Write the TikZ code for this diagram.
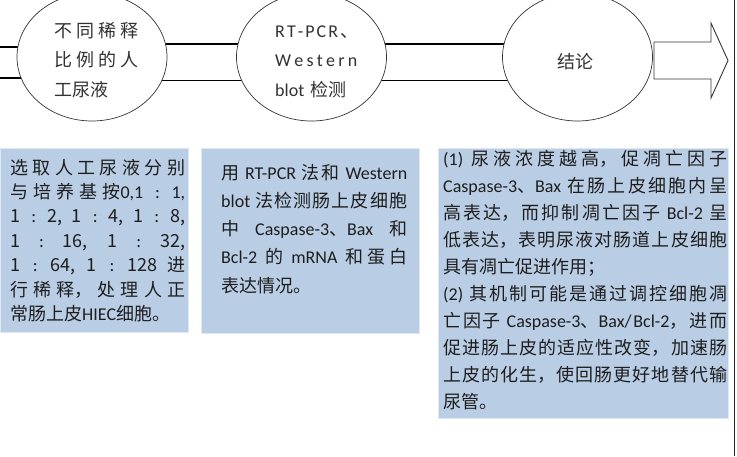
\documentclass[tikz,border=0pt]{standalone}
\usepackage{fontspec}
\setmainfont{Noto Sans CJK SC}
\newfontfamily\latfont{Carlito}
\newcommand\cc{\makebox[10pt][c]{\latfont :}}
\usetikzlibrary{shapes.geometric,backgrounds}
\XeTeXlinebreaklocale "zh"
\XeTeXlinebreakskip=0pt plus 2pt
\definecolor{boxfill}{RGB}{185,205,229}
\definecolor{boxline}{RGB}{222,231,242}
\definecolor{inkc}{RGB}{30,30,30}
\definecolor{ellink}{RGB}{50,50,50}
\newcommand\fsz[1]{\fontsize{18pt}{#1}\selectfont\parindent=0pt\tolerance=10000\exhyphenpenalty=10000\hyphenpenalty=10000}
\tikzset{
  ell/.style={ellipse, draw=black!80, line width=0.7pt, fill=white, minimum width=150pt, minimum height=128pt, inner sep=0pt},
  band/.style={draw=black, line width=1.2pt},
  panel/.style={draw=boxline, line width=0.8pt, fill=boxfill, inner sep=0pt, anchor=north west},
  ptext/.style={inner sep=0pt, anchor=base west, align=justify, text=inkc},
  etext/.style={inner sep=0pt, text=ellink},
}
\begin{document}
\begin{tikzpicture}[x=1pt,y=-1pt]
\useasboundingbox (0,0) rectangle (737,456);
% ellipses
\node[ell] (e1) at (92,57) {};
\node[ell] (e2) at (311.5,57) {};
\node[ell] (e3) at (577.5,57) {};
% bands behind ellipses
\coordinate (s1) at (0,47);
\coordinate (s2) at (0,78);
\begin{pgfonlayer}{background}
  \draw[band] (s1) -- (s1 -| e1.center);
  \draw[band] (s2) -- (s2 -| e1.center);
  \draw[band] ([yshift=13pt]e1.center) -- ([yshift=13pt]e2.center);
  \draw[band] ([yshift=-23.5pt]e1.center) -- ([yshift=-23.5pt]e2.center);
  \draw[band] ([yshift=13pt]e2.center) -- ([yshift=13pt]e3.center);
  \draw[band] ([yshift=-23.5pt]e2.center) -- ([yshift=-23.5pt]e3.center);
\end{pgfonlayer}
% big arrow to the right
\coordinate (tip) at (728,60.5);
\draw[black!80, line width=0.9pt, fill=white, line join=miter]
  (654,42) -- (711,42) -- (711,23) -- (tip) -- (711,98) -- (711,79) -- (654,79) -- cycle;
% ellipse texts
\node[etext, anchor=base west, text width=84pt, align=justify, font=\fsz{29.5pt}] (t1) at (54,37)
  {不同稀释\linebreak 比例的人\linebreak 工尿液};
\node[etext, anchor=base west, text width=90pt, align=left, font=\fsz{29.5pt}\latfont] (t2) at (275,37)
  {\makebox[83pt][s]{R\hfill T\hfill -\hfill P\hfill C\hfill R\hfill{\rmfamily 、}}\\
   \makebox[82pt][s]{W\hfill e\hfill s\hfill t\hfill e\hfill r\hfill n}\\
   blot {\rmfamily 检测}};
\node[etext, font=\fsz{18pt}] (t3) at (575,62) {结论};
% panels
\node[panel, minimum width=188pt, minimum height=184pt] (b1) at (0,148) {};
\node[panel, minimum width=218pt, minimum height=185pt] (b2) at (201,148) {};
\node[panel, minimum width=290pt, minimum height=270pt] (b3) at (438,148) {};
\node[ptext, text width=175pt, font=\fsz{24.4pt}] (p1) at ([xshift=10pt,yshift=-26pt]b1.north west)
  {选取人工尿液分别\linebreak 与培养基按{\latfont 0,1} \cc{} {\latfont 1,}\linebreak 1 \cc{} 2, 1 \cc{} 4, 1 \cc{} 8,\linebreak 1 \cc{} 16, 1 \cc{} 32,\linebreak 1 \cc{} 64, 1 \cc{} 128 进\linebreak 行稀释，处理人正\linebreak 常肠上皮{\latfont HIEC}细胞。};
\node[ptext, text width=186pt, font=\fsz{28.3pt}] (p2) at ([xshift=20pt,yshift=-31pt]b2.north west)
  {用 {\latfont RT-PCR} 法和 {\latfont Western}\linebreak {\latfont blot} 法检测肠上皮细胞\linebreak 中 {\latfont Caspase-3}、{\latfont Bax} 和\linebreak {\latfont Bcl-2} 的 {\latfont mRNA} 和蛋白\linebreak 表达情况。};
\node[ptext, text width=284pt, font=\fsz{27.1pt}] (p3) at ([xshift=5pt,yshift=-17pt]b3.north west)
  {{\latfont (1)} 尿液浓度越高，促凋亡因子\linebreak {\latfont Caspase-3}、{\latfont Bax} 在肠上皮细胞内呈\linebreak 高表达，而抑制凋亡因子 {\latfont Bcl-2} 呈\linebreak 低表达，表明尿液对肠道上皮细胞\linebreak 具有凋亡促进作用；\par {\latfont (2)} 其机制可能是通过调控细胞凋\linebreak 亡因子 {\latfont Caspase-3}、{\latfont Bax/Bcl-2}，进而\linebreak 促进肠上皮的适应性改变，加速肠\linebreak 上皮的化生，使回肠更好地替代输\linebreak 尿管。};
% frame line at right
\coordinate (fr1) at (734,0);
\coordinate (fr2) at (734,456);
\draw[black!85, line width=0.8pt] (fr1) -- (fr2);
\end{tikzpicture}
\end{document}
